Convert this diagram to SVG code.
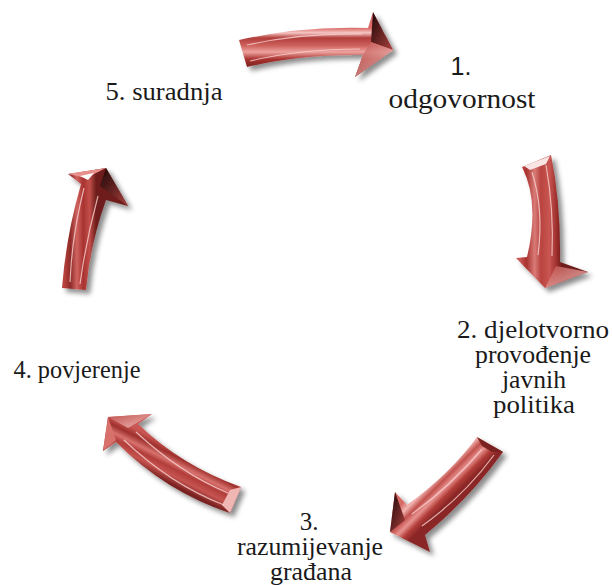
<svg xmlns="http://www.w3.org/2000/svg" width="612" height="585" viewBox="0 0 612 585">
<defs>
<filter id="sh" x="-30%" y="-30%" width="160%" height="160%">
<feDropShadow dx="4" dy="4" stdDeviation="2.5" flood-color="#000" flood-opacity="0.45"/>
</filter>
<linearGradient id="g1" gradientUnits="userSpaceOnUse" x1="0" y1="28" x2="0" y2="68">
<stop offset="0" stop-color="#d96a66"/><stop offset="0.12" stop-color="#f6c6c3"/><stop offset="0.25" stop-color="#b13d3a"/><stop offset="0.45" stop-color="#cf6460"/><stop offset="0.6" stop-color="#eea3a0"/><stop offset="0.78" stop-color="#a8322f"/><stop offset="1" stop-color="#7a2220"/>
</linearGradient>
<linearGradient id="g2" gradientUnits="userSpaceOnUse" x1="520" y1="0" x2="562" y2="0">
<stop offset="0" stop-color="#c95a56"/><stop offset="0.15" stop-color="#a8322f"/><stop offset="0.35" stop-color="#d87a76"/><stop offset="0.5" stop-color="#b9433f"/><stop offset="0.7" stop-color="#c95652"/><stop offset="0.88" stop-color="#9a2d2a"/><stop offset="1" stop-color="#6e1d1b"/>
</linearGradient>
<linearGradient id="g3" gradientUnits="userSpaceOnUse" x1="440" y1="466" x2="462" y2="488">
<stop offset="0" stop-color="#d96a66"/><stop offset="0.2" stop-color="#f2b5b2"/><stop offset="0.4" stop-color="#c2504c"/><stop offset="0.6" stop-color="#e89390"/><stop offset="0.8" stop-color="#b23c39"/><stop offset="1" stop-color="#8a2826"/>
</linearGradient>
<linearGradient id="g4" gradientUnits="userSpaceOnUse" x1="190" y1="456" x2="175" y2="486">
<stop offset="0" stop-color="#c95652"/><stop offset="0.2" stop-color="#9e302d"/><stop offset="0.4" stop-color="#d8726e"/><stop offset="0.55" stop-color="#b13d3a"/><stop offset="0.75" stop-color="#c65450"/><stop offset="1" stop-color="#7a2220"/>
</linearGradient>
<linearGradient id="g5" gradientUnits="userSpaceOnUse" x1="64" y1="0" x2="96" y2="0">
<stop offset="0" stop-color="#b8433f"/><stop offset="0.2" stop-color="#8e2a28"/><stop offset="0.4" stop-color="#cf6460"/><stop offset="0.6" stop-color="#a8322f"/><stop offset="0.8" stop-color="#c24f4b"/><stop offset="1" stop-color="#6e1d1b"/>
</linearGradient>
<linearGradient id="dark" x1="0" y1="0" x2="1" y2="1">
<stop offset="0" stop-color="#1e0606"/><stop offset="1" stop-color="#a8403d"/>
</linearGradient>
<linearGradient id="light" x1="0" y1="0" x2="1" y2="1">
<stop offset="0" stop-color="#c0504d"/><stop offset="1" stop-color="#f3c4c1"/>
</linearGradient>
</defs>
<style>
text{fill:#1a1a1a;text-anchor:middle}
.sf{font-family:"Liberation Serif",Tinos,"DejaVu Serif","Noto Serif","Times New Roman",serif}
.ss{font-family:"Liberation Sans",Arimo,Arial,sans-serif}
.bev{fill:none;stroke:#f7d0ce;stroke-width:1.2;stroke-opacity:0.8}
</style>
<g id="connectors">
<g id="arrow1" filter="url(#sh)">
<path d="M239,40 Q300,26 368,28 L373,12 L393,50 L355,77 L363,55 Q300,54 247,67 Z" fill="url(#g1)"/>
<path d="M373,12 L393,50 L371,42 Z" fill="url(#dark)"/>
<path d="M355,77 L393,50 L371,42 L363,55 Z" fill="url(#light)" opacity="0.8"/>
<path class="bev" d="M247,45 Q300,33 362,34 M250,61 Q300,49 360,49"/>
</g>
<g id="arrow2" filter="url(#sh)">
<path d="M522,167 L551,155 Q561,204 560,262 L588,272 L545,288 L516,258 L527,257 Q540,202 522,167 Z" fill="url(#g2)"/>
<path d="M524,166 L550,156 L546,164 L530,170 Z" fill="#f7e4e3"/>
<path d="M545,288 L588,272 L556,266 Z" fill="url(#light)" opacity="0.85"/>
<path class="bev" d="M532,172 Q544,210 538,255 M546,165 Q554,210 552,256"/>
</g>
<g id="arrow3" filter="url(#sh)">
<path d="M477,437 L503,452 Q470,498 425,535 L430,552 L390,532 L395,492 L407,505 Q450,474 477,437 Z" fill="url(#g3)"/>
<path d="M395,492 L390,532 L405,520 Z" fill="url(#dark)"/>
<path d="M477,437 L503,452 L492,452 L482,446 Z" fill="#7a2220"/>
<path class="bev" d="M482,449 Q452,485 412,514 M494,455 Q464,496 422,526"/>
</g>
<g id="arrow4" filter="url(#sh)">
<path d="M152,414 L108,417 L103,451 L116,442 Q166,492 230,513 L241,487 Q182,466 138,424 Z" fill="url(#g4)"/>
<path d="M108,417 L152,414 L128,428 Z" fill="url(#light)" opacity="0.9"/>
<path d="M108,417 L103,451 L116,440 Z" fill="#d8706c"/>
<path d="M241,487 L230,513 L222,505 L230,490 Z" fill="#f0b6b3"/>
<path class="bev" d="M136,432 Q180,473 228,493 M124,440 Q170,484 224,505"/>
</g>
<g id="arrow5" filter="url(#sh)">
<path d="M62,288 L86,290 Q90,245 106,200 L128,206 L106,168 L68,174 L81,184 Q66,236 62,288 Z" fill="url(#g5)"/>
<path d="M106,168 L128,206 L100,186 Z" fill="url(#dark)"/>
<path d="M68,174 L106,168 L86,178 Z" fill="#e7908d"/>
<path d="M80,176 L94,173 L88,180 Z" fill="#fff"/>
<path class="bev" d="M84,188 Q72,235 70,282 M98,196 Q86,240 80,284"/>
</g>
</g>
<g id="node1">
<text class="ss" x="461" y="75" font-size="25">1.</text>
<text class="sf" x="462" y="108" font-size="28" textLength="147" lengthAdjust="spacingAndGlyphs">odgovornost</text>
</g>
<g id="node2" font-size="25">
<text class="sf" x="533" y="338" textLength="152" lengthAdjust="spacingAndGlyphs">2. djelotvorno</text>
<text class="sf" x="533" y="363" textLength="116" lengthAdjust="spacingAndGlyphs">provođenje</text>
<text class="sf" x="534" y="388" textLength="64" lengthAdjust="spacingAndGlyphs">javnih</text>
<text class="sf" x="534" y="413" textLength="82" lengthAdjust="spacingAndGlyphs">politika</text>
</g>
<g id="node3" font-size="25">
<text class="sf" x="309" y="530">3.</text>
<text class="sf" x="310" y="555" textLength="146" lengthAdjust="spacingAndGlyphs">razumijevanje</text>
<text class="sf" x="311" y="580" textLength="82" lengthAdjust="spacingAndGlyphs">građana</text>
</g>
<g id="node4">
<text class="sf" x="77" y="378" font-size="24.5" textLength="127" lengthAdjust="spacingAndGlyphs">4. povjerenje</text>
</g>
<g id="node5">
<text class="sf" x="164" y="100" font-size="26" textLength="117" lengthAdjust="spacingAndGlyphs">5. suradnja</text>
</g>
</svg>
